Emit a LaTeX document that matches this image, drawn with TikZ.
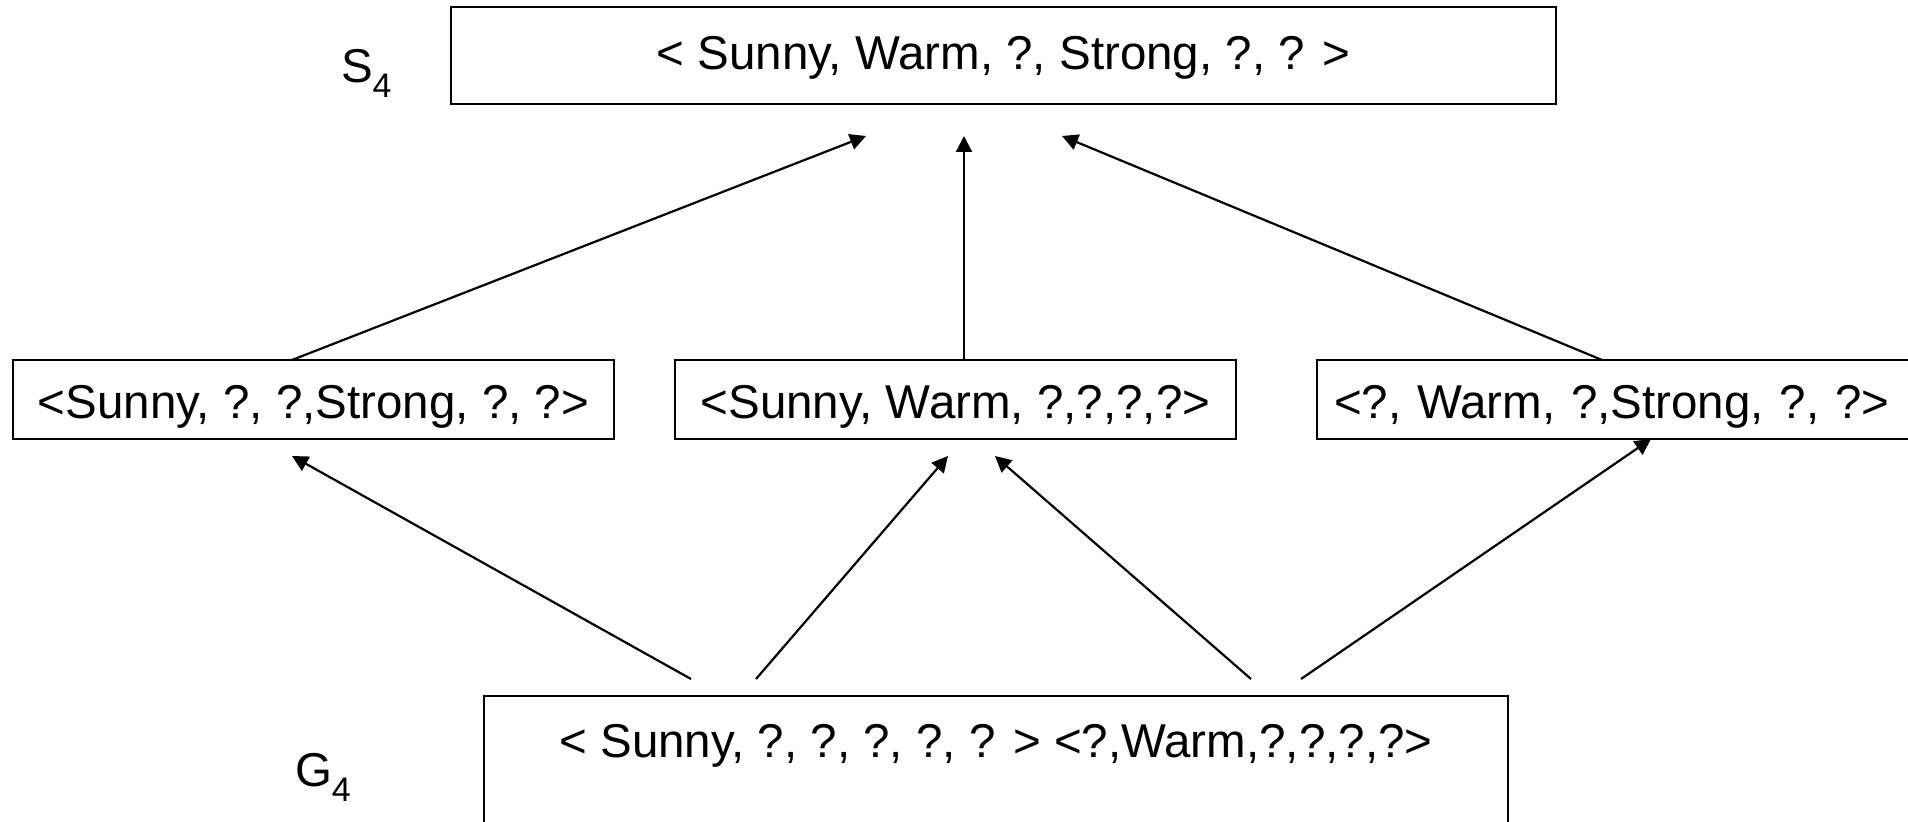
\documentclass[tikz,border=0pt]{standalone}
\usepackage{fontspec}
\setmainfont{Liberation Sans}
\usetikzlibrary{arrows.meta,calc}
\newcommand\mainfs{\fontsize{23.75pt}{28pt}\selectfont}
\newcommand\subfs{\fontsize{17pt}{18pt}\selectfont}
\begin{document}
\begin{tikzpicture}[x=0.5pt,y=-0.5pt,
  box/.style={draw, line width=1.3pt, inner xsep=0pt, inner ysep=0pt, outer sep=0pt, font=\mainfs, anchor=north west},
  arr/.style={-{Triangle[length=8pt,width=8pt]}, line width=1.1pt},
  lbl/.style={inner sep=0pt, outer sep=0pt, font=\mainfs, anchor=base west}]
\fill[white] (0,0) rectangle (1908,822);
\useasboundingbox (0,0) rectangle (1908,822);

\node[box, minimum width=552.5pt, text height=31.5pt, text depth=17pt] (T) at (451,7) {< Sunny, Warm, ?, Strong, ?, ? >};
\node[box, minimum width=300.5pt, text height=29.5pt, text depth=10pt] (L) at (13,360) {<Sunny, ?, ?,Strong, ?, ?>};
\node[box, minimum width=280.5pt, text height=29.5pt, text depth=10pt] (M) at (675,360) {<Sunny, Warm, ?,?,?,?>};
\node[box, inner xsep=8.5pt, text width=281.5pt, align=left, text height=29.5pt, text depth=10pt] (R) at (1317,360) {<?, Warm, ?,Strong, ?, ?>};
\node[box, minimum width=512pt, text height=31pt, text depth=41pt] (B) at (484,696) {< Sunny, ?, ?, ?, ?, ? > <?,Warm,?,?,?,?>};

\node[lbl] (S4) at (341,83) {S\raisebox{-7.5pt}{\subfs 4}};
\node[lbl] (G4) at (295,787) {G\raisebox{-7.5pt}{\subfs 4}};

\draw[arr] ($(L.north west)+(279,0)$) -- ($(T.south west)+(415,32)$);
\draw[arr] ($(M.north west)+(289,0)$) -- ($(T.south west)+(513,32)$);
\draw[arr] ($(R.north west)+(285,0)$) -- ($(T.south west)+(611,32)$);
\draw[arr] ($(B.north west)+(207,-17)$) -- ($(L.south west)+(279,17)$);
\draw[arr] ($(B.north west)+(272,-17)$) -- ($(M.south west)+(273,17)$);
\draw[arr] ($(B.north west)+(767,-17)$) -- ($(M.south west)+(320,17)$);
\draw[arr] ($(B.north west)+(817,-17)$) -- ($(R.south west)+(334,0)$);
\end{tikzpicture}
\end{document}
